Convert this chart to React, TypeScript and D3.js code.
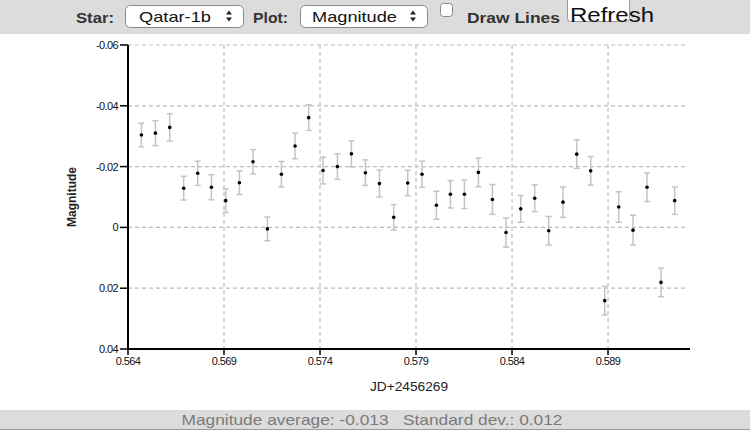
import React from "react";
import * as d3 from "d3";

const jd = [
  0.564698, 0.565427, 0.566172, 0.566901, 0.56763, 0.568344, 0.569089, 0.569802, 0.57051, 0.57126,
  0.57199, 0.5727, 0.573411, 0.574156, 0.574906, 0.575635, 0.576365, 0.577094, 0.577839, 0.578568,
  0.579313, 0.580063, 0.580792, 0.581521, 0.58225, 0.582979, 0.583688, 0.584453, 0.585182, 0.585911,
  0.586656, 0.58737, 0.588099, 0.588828, 0.589557, 0.590302, 0.591031, 0.59176, 0.592474,
];
const mag = [
  -0.0304, -0.031, -0.0329, -0.0129, -0.0178, -0.0132, -0.0088, -0.0147, -0.0216, 0.0005,
  -0.0175, -0.0268, -0.0361, -0.0187, -0.02, -0.0242, -0.018, -0.0144, -0.0033, -0.0146,
  -0.0175, -0.0073, -0.0109, -0.0109, -0.0181, -0.0092, 0.0017, -0.0061, -0.0096, 0.0011,
  -0.0083, -0.0241, -0.0186, 0.0241, -0.0067, 0.0009, -0.0132, 0.0181, -0.0088,
];
const err = [
  0.0039, 0.0041, 0.0045, 0.0039, 0.004, 0.0041, 0.0039, 0.0039, 0.004, 0.0039,
  0.0042, 0.0042, 0.0042, 0.0044, 0.0042, 0.0043, 0.0042, 0.0044, 0.0042, 0.0042,
  0.0043, 0.0046, 0.0045, 0.0047, 0.0047, 0.0049, 0.0048, 0.0044, 0.0044, 0.0047,
  0.005, 0.0047, 0.0047, 0.0047, 0.005, 0.0049, 0.0047, 0.0047, 0.0045,
];
const xTicks = [0.564, 0.569, 0.574, 0.579, 0.584, 0.589];
const yTicks = [-0.06, -0.04, -0.02, 0, 0.02, 0.04];
const xDomain = [0.564, 0.59327];
const yDomain = [-0.06, 0.04];

const W = 750;
const H = 433;
const L = 128, R = 690, T = 45, B = 349;

export default function App() {
  const x = d3.scaleLinear().domain(xDomain).range([L, R]);
  const y = d3.scaleLinear().domain(yDomain).range([T, B]);
  const fmtX = (v: number) => d3.format(".3f")(v).replace("\u2212", "-");
  const fmtY = (v: number) => (Math.abs(v) < 1e-9 ? "0" : d3.format(".2f")(v).replace("\u2212", "-"));
  const grid = "#bdbdbd";
  const font = "'Liberation Sans', Arial, sans-serif";
  const pts = jd.map((d, i) => ({ x: d, y: mag[i], e: err[i] }));

  return (
    <svg width={W} height={H} style={{ position: "absolute", left: 0, top: 0, background: "#fff" }} fontFamily={font}>
      {/* top control bar */}
      <rect x={0} y={0} width={W} height={34} fill="#dcdcdc" />
      <text x={76} y={23} fontSize={15} fontWeight="bold" fill="#333" textLength={38} lengthAdjust="spacingAndGlyphs">Star:</text>
      <rect x={125.5} y={5.5} width={118} height={22} rx={5} fill="#fff" stroke="#8a8a8a" />
      <text x={139} y={22} fontSize={15} fill="#111" textLength={72} lengthAdjust="spacingAndGlyphs">Qatar-1b</text>
      <path d="M226,14.5 L229,10.5 L232,14.5 Z M226,17.5 L229,21.5 L232,17.5 Z" fill="#222" />
      <text x={253} y={23} fontSize={15} fontWeight="bold" fill="#333" textLength={35} lengthAdjust="spacingAndGlyphs">Plot:</text>
      <rect x={300.5} y={5.5} width={127} height={22} rx={5} fill="#fff" stroke="#8a8a8a" />
      <text x={312} y={22} fontSize={15} fill="#111" textLength={85} lengthAdjust="spacingAndGlyphs">Magnitude</text>
      <path d="M410,14.5 L413,10.5 L416,14.5 Z M410,17.5 L413,21.5 L416,17.5 Z" fill="#222" />
      <rect x={440.5} y={3.5} width={12} height={13} rx={3} fill="#fff" stroke="#8a8a8a" />
      <text x={467} y={23} fontSize={15} fontWeight="bold" fill="#333" textLength={93} lengthAdjust="spacingAndGlyphs">Draw Lines</text>
      <rect x={567.5} y={-4.5} width={62} height={26} rx={3} fill="#fff" stroke="#9a9a9a" />
      <text x={570} y={22} fontSize={21} fill="#111" textLength={84} lengthAdjust="spacingAndGlyphs">Refresh</text>

      {/* gridlines */}
      {yTicks.filter((t) => t !== 0.04).map((t) => (
        <line key={"gy" + t} x1={L} x2={R - 2} y1={y(t)} y2={y(t)} stroke={grid} strokeWidth={1.2} strokeDasharray="4,3" />
      ))}
      {xTicks.filter((t) => t !== 0.564).map((t) => (
        <line key={"gx" + t} x1={x(t)} x2={x(t)} y1={T} y2={B} stroke={grid} strokeWidth={1.2} strokeDasharray="4,3" />
      ))}

      {/* error bars */}
      {pts.map((p, i) => {
        const cx = x(p.x);
        const y1 = y(p.y - p.e);
        const y2 = y(p.y + p.e);
        return (
          <g key={"e" + i} stroke="#c4c4c4" strokeWidth={1.5}>
            <line x1={cx} x2={cx} y1={y1} y2={y2} />
            <line x1={cx - 3} x2={cx + 3} y1={y1} y2={y1} />
            <line x1={cx - 3} x2={cx + 3} y1={y2} y2={y2} />
          </g>
        );
      })}
      {pts.map((p, i) => (
        <circle key={"p" + i} cx={x(p.x)} cy={y(p.y)} r={1.8} fill="#000" />
      ))}

      {/* axes */}
      <line x1={L} x2={L} y1={T} y2={B + 1} stroke="#000" strokeWidth={2} />
      <line x1={L - 1} x2={R} y1={B} y2={B} stroke="#000" strokeWidth={2} />
      {yTicks.map((t) => (
        <g key={"yt" + t}>
          <line x1={L - 8} x2={L} y1={y(t)} y2={y(t)} stroke="#000" strokeWidth={1.5} />
          <text x={L - 10} y={y(t) + 4} fontSize={11} textAnchor="end" fill="#111" letterSpacing={-0.6}>{fmtY(t)}</text>
        </g>
      ))}
      {xTicks.map((t) => (
        <g key={"xt" + t}>
          <line x1={x(t)} x2={x(t)} y1={B} y2={B + 6} stroke="#000" strokeWidth={1.5} />
          <text x={x(t)} y={B + 16} fontSize={11} textAnchor="middle" fill="#111" letterSpacing={-0.6}>{fmtX(t)}</text>
        </g>
      ))}
      <text transform={`translate(76,${(T + B) / 2}) rotate(-90)`} fontSize={12.5} fontWeight="bold" textAnchor="middle" fill="#222" textLength={60} lengthAdjust="spacingAndGlyphs">Magnitude</text>
      <text x={(L + R) / 2} y={391} fontSize={12} textAnchor="middle" fill="#222" textLength={78} lengthAdjust="spacingAndGlyphs">JD+2456269</text>

      {/* bottom bar */}
      <rect x={0} y={410} width={W} height={19} fill="#dcdcdc" />
      <line x1={0} x2={W} y1={429.5} y2={429.5} stroke="#9a9a9a" />
      <text x={372} y={425} fontSize={15} textAnchor="middle" fill="#7a7a7a" textLength={381} lengthAdjust="spacingAndGlyphs">{"Magnitude average: -0.013\u00a0\u00a0\u00a0Standard dev.: 0.012"}</text>
    </svg>
  );
}
